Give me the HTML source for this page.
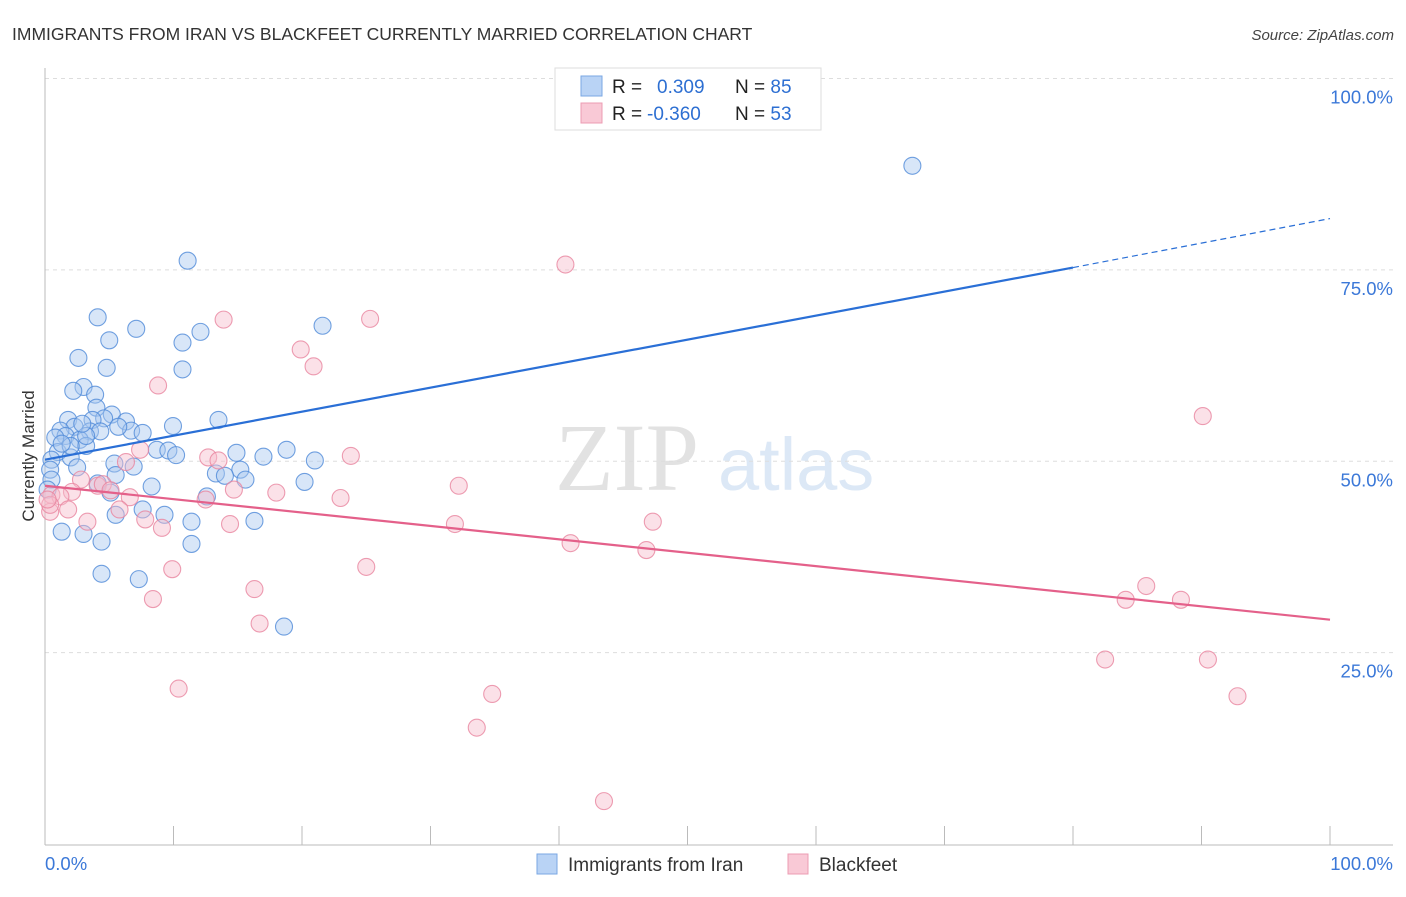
<!DOCTYPE html>
<html><head><meta charset="utf-8"><style>
body{margin:0;background:#fff;width:1406px;height:892px;overflow:hidden;font-family:"Liberation Sans",sans-serif}
</style></head><body>
<svg id="chart" width="1406" height="892" xmlns="http://www.w3.org/2000/svg">
<text x="12" y="40" font-size="17.5" fill="#333">IMMIGRANTS FROM IRAN VS BLACKFEET CURRENTLY MARRIED CORRELATION CHART</text>
<text x="1394" y="40" font-size="15" fill="#444" font-style="italic" text-anchor="end">Source: ZipAtlas.com</text>
<text transform="translate(34,456) rotate(-90)" font-size="17" fill="#333" text-anchor="middle">Currently Married</text>
<g>
<text x="555" y="490" font-family="Liberation Serif,serif" font-size="96" fill="#e2e2e2">ZIP</text>
<text x="718" y="490" font-size="74" fill="#dce8f6">atlas</text>
</g>
<g id="grid"></g><g id="axes"></g><g id="marks"></g>
<g>
<rect x="555" y="68" width="266" height="62" fill="#fff" stroke="#ddd"/>
<rect x="581" y="76" width="21" height="20" fill="#b9d3f5" stroke="#7aa7e3"/>
<rect x="581" y="103" width="21" height="20" fill="#f9c9d6" stroke="#ec9cb3"/>
<text x="612" y="93" font-size="19" fill="#222">R = <tspan fill="#2d6fd2" x="657">0.309</tspan></text>
<text x="735" y="93" font-size="19" fill="#222">N = <tspan fill="#2d6fd2">85</tspan></text>
<text x="612" y="120" font-size="19" fill="#222">R = <tspan fill="#2d6fd2" x="647">-0.360</tspan></text>
<text x="735" y="120" font-size="19" fill="#222">N = <tspan fill="#2d6fd2">53</tspan></text>
</g>
<g>
<rect x="537" y="854" width="20" height="20" fill="#b9d3f5" stroke="#7aa7e3"/>
<text x="568" y="871" font-size="19" fill="#333">Immigrants from Iran</text>
<rect x="788" y="854" width="20" height="20" fill="#f9c9d6" stroke="#ec9cb3"/>
<text x="819" y="871" font-size="19" fill="#333">Blackfeet</text>
</g>
</svg>
<script>
const yTicks=[25,50,75,100];
const yTickLabels=["25.0%","50.0%","75.0%","100.0%"];
const xEndLabels=["0.0%","100.0%"];
const iranX=[67.5,11.1,21.6,4.1,7.1,12.1,5.0,10.7,2.6,4.8,10.7,3.0,2.2,3.9,4.0,1.8,5.2,4.6,6.3,13.5,9.96,3.7,2.3,1.2,1.6,3.5,6.7,7.6,0.8,2.7,3.2,1.0,0.5,2.0,8.7,9.6,10.2,14.9,17.0,18.8,21.0,5.4,6.9,2.5,0.4,15.2,13.3,14.0,15.6,0.5,5.5,20.2,4.1,8.3,0.2,5.1,12.6,7.6,5.5,9.3,11.4,16.3,1.3,3.0,4.4,11.4,4.4,7.3,18.6,2.0,5.7,4.3,1.3,3.2,2.9];
const iranY=[88.6,76.2,67.7,68.8,67.3,66.9,65.8,65.5,63.5,62.2,62.0,59.7,59.2,58.7,57.0,55.4,56.1,55.6,55.2,55.4,54.6,55.4,54.5,54.0,53.3,53.9,54.0,53.7,53.1,52.8,52.0,51.2,50.2,50.5,51.5,51.4,50.8,51.1,50.6,51.5,50.1,49.7,49.3,49.2,48.9,48.9,48.4,48.1,47.6,47.6,48.2,47.3,47.1,46.7,46.3,45.9,45.4,43.7,43.0,43.0,42.1,42.2,40.8,40.5,39.5,39.2,35.3,34.6,28.4,52.0,54.5,53.9,52.3,53.3,54.9];
const bfX=[40.5,13.9,25.3,19.9,20.9,8.8,90.1,7.4,23.8,12.7,13.5,6.3,32.2,2.8,4.1,14.7,18.0,23.0,6.6,2.1,0.5,1.2,12.5,5.8,1.8,0.4,3.3,7.8,9.1,14.4,31.9,47.3,40.9,46.8,9.9,25.0,16.3,8.4,85.7,84.1,88.4,16.7,82.5,90.5,10.4,34.8,92.8,33.6,43.5,0.4,4.5,5.1,0.2];
const bfY=[75.7,68.5,68.6,64.6,62.4,59.9,55.9,51.5,50.7,50.5,50.1,49.9,46.8,47.6,46.8,46.3,45.9,45.2,45.3,46.0,45.6,45.4,45.0,43.7,43.7,43.4,42.1,42.4,41.3,41.8,41.8,42.1,39.3,38.4,35.9,36.2,33.3,32.0,33.7,31.9,31.9,28.8,24.1,24.1,20.3,19.6,19.3,15.2,5.6,44.3,47.0,46.2,45.0];
const iranTrendX=[0,80,100];
const iranTrendY=[50.2,75.3,81.7];
const bfTrendX=[0,100];
const bfTrendY=[46.8,29.3];

const NS="http://www.w3.org/2000/svg";
const L=45,R=1330,T0=844,YS=7.655;
const sx=v=>L+v*(R-L)/100;
const sy=v=>T0-v*YS;
function mk(tag,attrs,parent){const e=document.createElementNS(NS,tag);for(const k in attrs)e.setAttribute(k,attrs[k]);parent.appendChild(e);return e;}
const grid=document.getElementById('grid'),axes=document.getElementById('axes'),marks=document.getElementById('marks');
yTicks.forEach((t,i)=>{
 const g=mk('line',{x1:L,x2:1393,y1:sy(t),y2:sy(t),stroke:'#ddd','stroke-dasharray':'4,4'},grid);
 
 
 const tx=mk('text',{x:1393,y:sy(t)+25,'font-size':18.5,fill:'#3b78d8','text-anchor':'end'},axes);
 tx.textContent=yTickLabels[i];
 
 
});
const ax=mk('line',{x1:L,x2:1393,y1:845,y2:845,stroke:'#bbb'},axes);


const ay=mk('line',{x1:L,x2:L,y1:68,y2:845,stroke:'#bbb'},axes);


for(let i=0;i<=10;i++){
 const tk=mk('line',{x1:sx(i*10),x2:sx(i*10),y1:826,y2:845,stroke:'#bbb'},axes);
 
 
}
[[0,'start',45],[100,'end',1393]].forEach((p,i)=>{
 const t=mk('text',{x:p[2],y:870,'font-size':18.5,fill:'#3b78d8','text-anchor':p[1]},axes);
 t.textContent=xEndLabels[i];
 
 
});
function pts(xs,ys,fill,stroke,name){
 xs.forEach((x,i)=>{
  const c=mk('circle',{cx:sx(x),cy:sy(ys[i]),r:8.5,fill:fill,'fill-opacity':0.45,stroke:stroke,'stroke-opacity':0.8,'stroke-width':1.1},marks);
  
  
 });
}
pts(iranX,iranY,'#a9c8f0','#4f8ad8','iran-point');
pts(bfX,bfY,'#f6bccd','#e8859f','blackfeet-point');
const l1=mk('line',{x1:sx(iranTrendX[0]),y1:sy(iranTrendY[0]),x2:sx(iranTrendX[1]),y2:sy(iranTrendY[1]),stroke:'#2a6fd6','stroke-width':2.2},marks);


const l2=mk('line',{x1:sx(iranTrendX[1]),y1:sy(iranTrendY[1]),x2:sx(iranTrendX[2]),y2:sy(iranTrendY[2]),stroke:'#2a6fd6','stroke-width':1.2,'stroke-dasharray':'6,4'},marks);


const l3=mk('line',{x1:sx(bfTrendX[0]),y1:sy(bfTrendY[0]),x2:sx(bfTrendX[1]),y2:sy(bfTrendY[1]),stroke:'#e4608a','stroke-width':2.2},marks);


</script>
</body></html>
